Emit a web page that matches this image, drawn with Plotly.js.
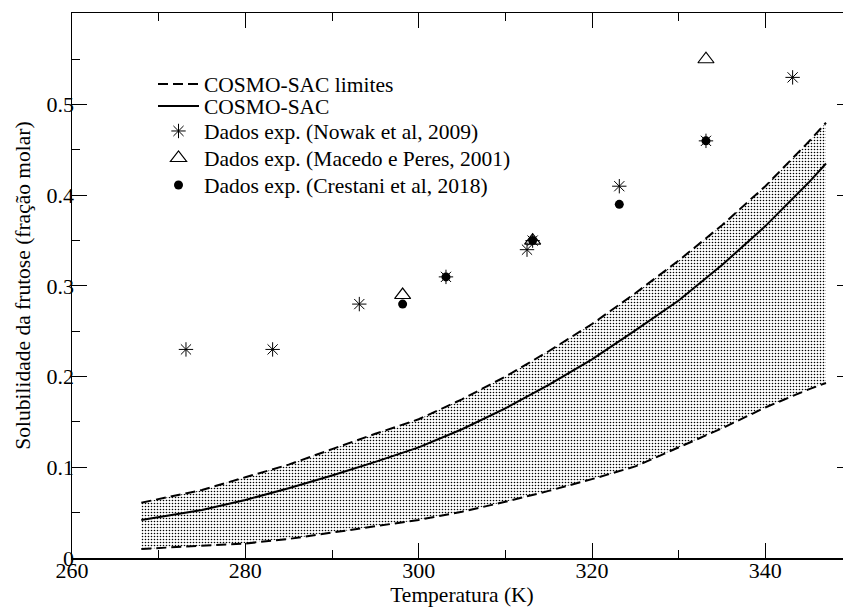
<!DOCTYPE html>
<html>
<head>
<meta charset="utf-8">
<script src="https://cdn.plot.ly/plotly-3.0.1.min.js"></script>
<style>
html, body { margin: 0; padding: 0; overflow: hidden; background: #fff; }
#chart { width: 853px; height: 607px; }
</style>
</head>
<body>
<div id="chart"></div>
<script>
// Model curves (COSMO-SAC)
const T_curve = [268, 270, 275, 280, 285, 290, 295, 300, 305, 310, 315, 320, 325, 330, 335, 340, 345, 347];
const upper   = [0.061, 0.065, 0.075, 0.089, 0.103, 0.120, 0.137, 0.153, 0.175, 0.200, 0.228, 0.258, 0.292, 0.328, 0.367, 0.410, 0.459, 0.480];
const central = [0.042, 0.045, 0.053, 0.064, 0.077, 0.091, 0.106, 0.122, 0.142, 0.165, 0.191, 0.219, 0.251, 0.284, 0.323, 0.366, 0.414, 0.435];
const lower   = [0.010, 0.011, 0.013, 0.016, 0.021, 0.028, 0.035, 0.042, 0.051, 0.062, 0.074, 0.087, 0.101, 0.122, 0.143, 0.166, 0.186, 0.193];

// Experimental data
const T_nowak = [273.15, 283.15, 293.15, 303.15, 312.5, 313.15, 323.15, 333.15, 343.15];
const x_nowak = [0.23, 0.23, 0.28, 0.31, 0.34, 0.35, 0.41, 0.46, 0.53];
const T_macedo = [298.15, 313.15, 333.15];
const x_macedo = [0.29, 0.35, 0.55];
const T_crestani = [298.15, 303.15, 313.15, 323.15, 333.15];
const x_crestani = [0.28, 0.31, 0.35, 0.39, 0.46];

// Axis ticks
const xTickVals = [260, 280, 300, 320, 340];
const xTickText = ['260', '280', '300', '320', '340'];
const yTickVals = [0, 0.1, 0.2, 0.3, 0.4, 0.5];
const yTickText = ['0', '0.1', '0.2', '0.3', '0.4', '0.5'];

const FONT = '"Liberation Serif", "Times New Roman", serif';
const dashStyle = '10px,5px';

const traces = [
  { x: T_curve, y: lower, type: 'scatter', mode: 'lines', line: { width: 0, color: 'rgba(0,0,0,0)' },
    showlegend: false, hoverinfo: 'skip' },
  { x: T_curve, y: upper, type: 'scatter', mode: 'lines', line: { width: 0, color: 'rgba(0,0,0,0)' },
    fill: 'tonexty', fillcolor: 'rgba(255,255,255,0)',
    fillpattern: { shape: '.', size: 3, solidity: 0.22, fgcolor: '#000', bgcolor: '#fff' },
    showlegend: false, hoverinfo: 'skip' },
  { x: T_curve, y: lower, type: 'scatter', mode: 'lines', name: 'COSMO-SAC limites',
    line: { color: '#000', width: 2, dash: dashStyle }, showlegend: false },
  { x: T_curve, y: upper, type: 'scatter', mode: 'lines', name: 'COSMO-SAC limites',
    line: { color: '#000', width: 2, dash: dashStyle }, legend: 'legend' },
  { x: T_curve, y: central, type: 'scatter', mode: 'lines', name: 'COSMO-SAC',
    line: { color: '#000', width: 2 }, legend: 'legend2' },
  { x: T_nowak, y: x_nowak, type: 'scatter', mode: 'markers', name: 'Dados exp. (Nowak et al, 2009)',
    marker: { symbol: 'asterisk-open', size: 12, color: '#000', line: { color: '#000', width: 1 } }, legend: 'legend3' },
  { x: T_macedo, y: x_macedo, type: 'scatter', mode: 'markers', name: 'Dados exp. (Macedo e Peres, 2001)',
    marker: { symbol: 'triangle-up-open', size: 14, color: '#000', line: { color: '#000', width: 1.2 } }, legend: 'legend4' },
  { x: T_crestani, y: x_crestani, type: 'scatter', mode: 'markers', name: 'Dados exp. (Crestani et al, 2018)',
    marker: { symbol: 'circle', size: 9, color: '#000' }, legend: 'legend5' }
];

const plotTop = 13, plotBottom = 558, plotH = plotBottom - plotTop;
function py(pix) { return (plotBottom - pix) / plotH; }
const legX = (153 - 72) / 780;
function leg(pix) {
  return { x: legX, xanchor: 'left', y: py(pix), yanchor: 'middle', bgcolor: 'rgba(0,0,0,0)',
           borderwidth: 0, font: { family: FONT, size: 21.5, color: '#000' }, itemwidth: 41 };
}

const layout = {
  width: 853, height: 607,
  margin: { l: 72, r: 1, t: 13, b: 49 },
  paper_bgcolor: '#fff', plot_bgcolor: '#fff',
  font: { family: FONT, size: 22, color: '#000' },
  showlegend: true,
  legend: leg(84), legend2: leg(106), legend3: leg(131), legend4: leg(158), legend5: leg(185),
  xaxis: {
    range: [260, 350], tickvals: xTickVals, ticktext: xTickText,
    ticks: 'inside', ticklen: 15, tickwidth: 1, tickcolor: '#000',
    showline: true, linewidth: 1.5, linecolor: '#000', mirror: 'ticks',
    showgrid: false, zeroline: false, ticklabelstandoff: -8,
    minor: { dtick: 10, tick0: 260, ticks: 'inside', ticklen: 8, tickwidth: 1, tickcolor: '#000', showgrid: false },
    tickfont: { family: FONT, size: 22 },
    title: { text: 'Temperatura (K)', standoff: 3, font: { family: FONT, size: 21.5 } }
  },
  yaxis: {
    range: [0, 0.601], tickvals: yTickVals, ticktext: yTickText,
    ticks: 'inside', ticklen: 15, tickwidth: 1, tickcolor: '#000',
    showline: true, linewidth: 1.5, linecolor: '#000', mirror: 'ticks',
    showgrid: false, zeroline: false, ticklabelstandoff: -8,
    minor: { dtick: 0.05, tick0: 0, ticks: 'inside', ticklen: 8, tickwidth: 1, tickcolor: '#000', showgrid: false },
    tickfont: { family: FONT, size: 22 },
    title: { text: 'Solubilidade da frutose (fração molar)', standoff: 10, font: { family: FONT, size: 21.5 } }
  }
};

Plotly.newPlot('chart', traces, layout, { displayModeBar: false, staticPlot: true });
</script>
</body>
</html>
